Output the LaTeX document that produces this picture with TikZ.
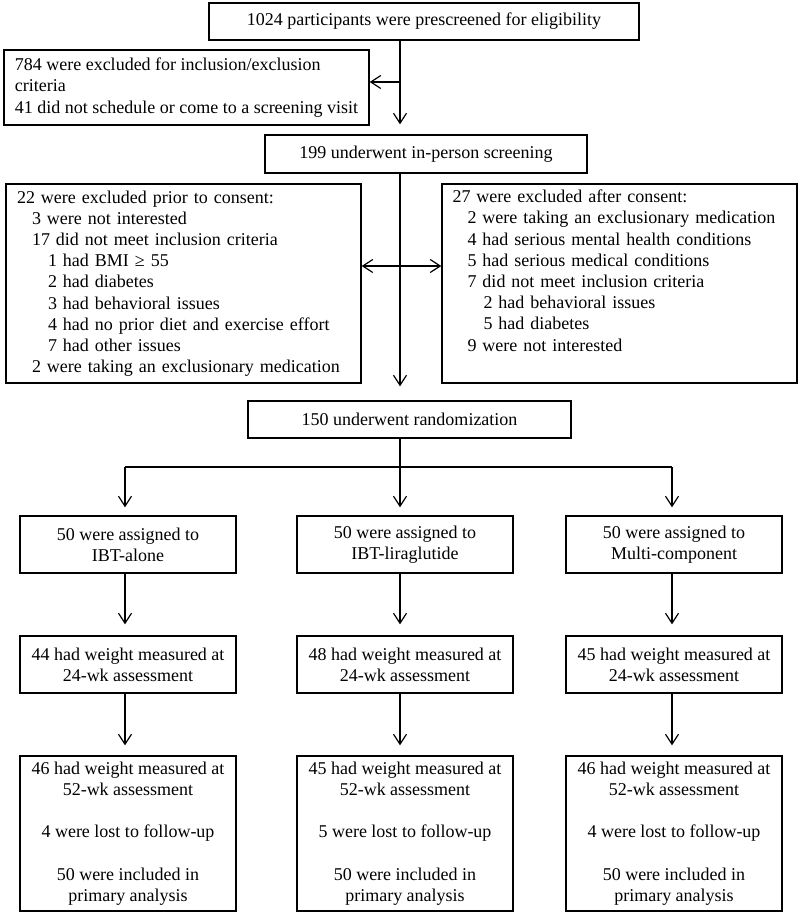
\documentclass[tikz,border=0pt]{standalone}
\usepackage{fontspec}
\setmainfont{Liberation Serif}
\usetikzlibrary{arrows.meta}
\newcommand{\ia}{\hspace*{15pt}}
\newcommand{\ib}{\hspace*{31pt}}
\begin{document}
\begin{tikzpicture}[x=1pt,y=-1pt,
  txt/.style={inner sep=0pt, font=\fontsize{18}{21.2}\selectfont},
  box/.style={draw, line width=1.4pt, txt},
  colbox/.style={box, minimum width=216pt, align=center},
  tip/.tip={Straight Barb[length=10pt,width=13pt,line width=1.2pt]},
  arr/.style={line width=1.2pt, -tip},
  ln/.style={line width=1.2pt}]
\useasboundingbox[fill=white] (0,0) rectangle (800,914);

\node[box, minimum width=430pt, minimum height=37pt] (top) at (424,21.5) {1024 participants were prescreened for eligibility};
\node[box, minimum width=365pt, minimum height=75pt, align=left] (ex) at (186.5,87.5)
  {784 were excluded for inclusion/exclusion\\criteria\\41 did not schedule or come to a screening visit};
\node[box, minimum width=322pt, minimum height=38pt] (scr) at (426,154) {199 underwent in-person screening};

\node[box, minimum width=355pt, minimum height=199pt, text width=333pt, align=left] (lft) at (183.5,283.5)
  {22 were excluded prior to consent:\\
   \ia 3 were not interested\\
   \ia 17 did not meet inclusion criteria\\
   \ib 1 had BMI ≥ 55\\
   \ib 2 had diabetes\\
   \ib 3 had behavioral issues\\
   \ib 4 had no prior diet and exercise effort\\
   \ib 7 had other issues\\
   \ia 2 were taking an exclusionary medication};
\node[box, minimum width=355pt, minimum height=199pt] (rgt) at (619.5,283.5) {};
\node[txt, text width=333pt, align=left, anchor=north west] (rgtt) at ([xshift=11pt,yshift=-6.5pt]rgt.north west)
  {27 were excluded after consent:\\
   \ia 2 were taking an exclusionary medication\\
   \ia 4 had serious mental health conditions\\
   \ia 5 had serious medical conditions\\
   \ia 7 did not meet inclusion criteria\\
   \ib 2 had behavioral issues\\
   \ib 5 had diabetes\\
   \ia 9 were not interested};

\node[box, minimum width=323pt, minimum height=37pt] (rand) at (409.5,419.5) {150 underwent randomization};

\node[colbox, minimum height=57pt] (a1) at (128,544.5) {50 were assigned to\\IBT-alone};
\node[colbox, minimum height=57pt] (a2) at (405,544.5) {50 were assigned to\\IBT-liraglutide};
\node[colbox, minimum height=57pt] (a3) at (674,544.5) {50 were assigned to\\Multi-component};

\node[colbox, minimum height=57pt] (w1) at (128,664.5) {44 had weight measured at\\24-wk assessment};
\node[colbox, minimum height=57pt] (w2) at (405,664.5) {48 had weight measured at\\24-wk assessment};
\node[colbox, minimum height=57pt] (w3) at (674,664.5) {45 had weight measured at\\24-wk assessment};

\node[colbox, minimum height=155pt] (b1) at (128,833.5) {46 had weight measured at\\52-wk assessment\\[21.2pt]4 were lost to follow-up\\[21.2pt]50 were included in\\primary analysis};
\node[colbox, minimum height=155pt] (b2) at (405,833.5) {45 had weight measured at\\52-wk assessment\\[21.2pt]5 were lost to follow-up\\[21.2pt]50 were included in\\primary analysis};
\node[colbox, minimum height=155pt] (b3) at (674,833.5) {46 had weight measured at\\52-wk assessment\\[21.2pt]4 were lost to follow-up\\[21.2pt]50 were included in\\primary analysis};

\coordinate (mx) at (400,0);
\coordinate (c1) at (125,467);
\coordinate (c2) at (400,467);
\coordinate (c3) at (672,467);

\draw[arr, shorten >=10pt] (top.south -| mx) -- (scr.north -| mx);
\draw[arr] ([yshift=5.5pt]ex.east -| mx) -- ([yshift=5.5pt]ex.east);
\draw[arr, shorten >=14pt] (scr.south -| mx) -- (rand.north -| mx);
\draw[line width=1.2pt, tip-tip] ([yshift=17.5pt]lft.east) -- ([yshift=17.5pt]lft.east -| rgt.west);

\draw[ln] (rand.south -| mx) -- (c2);
\draw[ln] (c1) -- (c3);
\draw[arr, shorten >=8pt] (c1) -- (c1 |- a1.north);
\draw[arr, shorten >=8pt] (c2) -- (c2 |- a2.north);
\draw[arr, shorten >=8pt] (c3) -- (c3 |- a3.north);

\draw[arr, shorten >=11pt] (a1.south -| c1) -- (w1.north -| c1);
\draw[arr, shorten >=11pt] (a2.south -| c2) -- (w2.north -| c2);
\draw[arr, shorten >=11pt] (a3.south -| c3) -- (w3.north -| c3);

\draw[arr, shorten >=10pt] (w1.south -| c1) -- (b1.north -| c1);
\draw[arr, shorten >=10pt] (w2.south -| c2) -- (b2.north -| c2);
\draw[arr, shorten >=10pt] (w3.south -| c3) -- (b3.north -| c3);
\end{tikzpicture}
\end{document}
